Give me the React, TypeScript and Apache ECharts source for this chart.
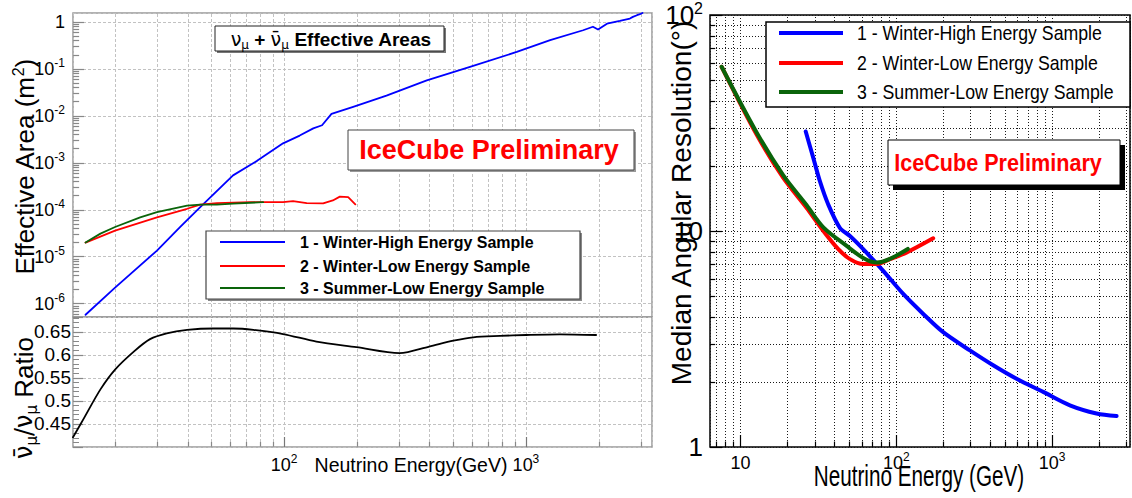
import React, { useEffect, useRef } from 'react';
import * as echarts from 'echarts';

// ---------------- Data ----------------
const sampleNames = [
  '1 - Winter-High Energy Sample',
  '2 - Winter-Low Energy Sample',
  '3 - Summer-Low Energy Sample',
];

// Effective area (m^2) vs neutrino energy (GeV)
const effEnergyWinterHigh = [15.1, 20, 29.8, 37.2, 45, 61.5, 77.3, 99, 116, 132, 143.5, 157, 193, 265, 389, 587, 916, 1259, 1723, 1892, 1986, 2163, 2445, 2690, 2767, 2878, 2958, 3033];
const effAreaWinterHigh = [5.8e-7, 2.2e-6, 1.35e-5, 4.3e-5, 1.14e-4, 5.4e-4, 1.1e-3, 2.6e-3, 3.8e-3, 5.4e-3, 6.3e-3, 1.1e-2, 1.55e-2, 2.7e-2, 5.7e-2, 0.11, 0.23, 0.41, 0.665, 0.79, 0.69, 0.92, 1.05, 1.18, 1.28, 1.39, 1.46, 1.55];

const effEnergyWinterLow = [15.1, 20, 29.8, 39.7, 45, 52.7, 72.4, 99, 108.9, 124, 145, 159, 170, 184, 197];
const effAreaWinterLow = [2.0e-5, 3.6e-5, 6.9e-5, 1.05e-4, 1.29e-4, 1.38e-4, 1.45e-4, 1.45e-4, 1.52e-4, 1.38e-4, 1.37e-4, 1.58e-4, 1.9e-4, 1.85e-4, 1.3e-4];

const effEnergySummerLow = [15.1, 17.4, 20, 25.4, 29.8, 39.7, 45, 52.7, 61.5, 81.9];
const effAreaSummerLow = [2.0e-5, 3.1e-5, 4.3e-5, 6.9e-5, 8.9e-5, 1.23e-4, 1.29e-4, 1.29e-4, 1.35e-4, 1.45e-4];

// anti-nu / nu ratio
const ratioEnergy = [13.4, 14.8, 17.4, 20, 23.9, 27.9, 32.7, 39.7, 51.1, 61.7, 74.7, 99, 136, 199, 300, 398, 501, 605, 781, 1000, 1380, 1950];
const ratioValue = [0.421, 0.4605, 0.525, 0.568, 0.607, 0.634, 0.6466, 0.654, 0.657, 0.657, 0.654, 0.645, 0.6286, 0.6165, 0.6036, 0.618, 0.6307, 0.638, 0.641, 0.643, 0.6445, 0.643];

// Median angular resolution (deg) vs neutrino energy (GeV)
const resEnergyWinterHigh = [26.2, 29.3, 32.3, 36.5, 43.4, 50.4, 61.3, 82.4, 110.8, 149, 200, 297, 419, 592, 878, 1303, 1933, 2600];
const resWinterHigh = [28.9, 21.8, 17.0, 13.3, 10.35, 9.48, 8.24, 6.54, 5.11, 4.13, 3.40, 2.80, 2.39, 2.07, 1.80, 1.56, 1.43, 1.39];

const resEnergyWinterLow = [7.55, 12.7, 18.8, 26.5, 34.0, 42.4, 50.4, 61.3, 74.7, 91, 116, 172.5];
const resWinterLow = [57.6, 27.9, 17.6, 12.8, 10.0, 8.24, 7.41, 7.03, 7.03, 7.41, 7.94, 9.25];

const resEnergySummerLow = [7.55, 12.7, 18.8, 26.5, 34.0, 48.0, 61.3, 74.7, 91, 118.6];
const resSummerLow = [57.6, 28.5, 18.1, 13.2, 10.4, 8.53, 7.5, 7.14, 7.43, 8.26];

// Axis ranges
const LX_MIN = 13.4, LX_MAX = 3320;
const LY_MIN = 5.2e-7, LY_MAX = 1.55;
const RATIO_MIN = 0.4, RATIO_MAX = 0.682, RATIO_STEP = 0.05;
const RX_MIN = 6.36, RX_MAX = 3170;
const RY_MIN = 1, RY_MAX = 100;

// ---------------- Helpers ----------------
const FONT = "'Liberation Sans', Arial, Helvetica, sans-serif";
const NARROW = "'Liberation Sans Narrow', 'Liberation Sans', Arial, sans-serif";
const GREEK = "'DejaVu Sans', 'Liberation Sans', sans-serif";

const BLUE = '#0000ff';
const RED = '#ff0000';
const GREEN = '#0a640a';

const pairs = (xs: number[], ys: number[]) => xs.map((x, i) => [x, ys[i]]);

const logMinors = (lo: number, hi: number) => {
  const out: number[] = [];
  for (let d = Math.floor(Math.log10(lo)); d <= Math.ceil(Math.log10(hi)); d++) {
    for (let k = 2; k <= 9; k++) {
      const v = k * Math.pow(10, d);
      if (v > lo && v < hi) out.push(v);
    }
  }
  return out;
};

const isPow10 = (v: number) => {
  const e = Math.log10(v);
  return Math.abs(e - Math.round(e)) < 1e-6;
};

const powLabel = (plainTen: boolean) => (v: number) => {
  if (!isPow10(v)) return '';
  const r = Math.round(Math.log10(v));
  if (r === 0) return '1';
  if (r === 1 && plainTen) return '10';
  return `10{sup|${r}}`;
};

const ratioLabel = (v: number) => {
  const k = Math.round(v / RATIO_STEP);
  if (Math.abs(v - k * RATIO_STEP) > 1e-6 || k <= 8) return '';
  return String(Math.round(k * 5) / 100);
};

const supRich = (size: number, family: string) => ({
  sup: { fontSize: size, lineHeight: size, verticalAlign: 'top', fontFamily: family, color: '#000' },
});

const markLines = (data: any[], lineStyle: any) => ({
  silent: true,
  symbol: ['none', 'none'],
  z: 1,
  animation: false,
  label: { show: false },
  emphasis: { disabled: true },
  lineStyle,
  data,
});

const lineSeries = (name: string, idx: number, xs: number[], ys: number[], color: string, width: number, extra: any = {}) => ({
  type: 'line',
  name,
  xAxisIndex: idx,
  yAxisIndex: idx,
  data: pairs(xs, ys),
  showSymbol: false,
  symbol: 'none',
  silent: true,
  z: 2,
  lineStyle: { color, width, cap: 'round', join: 'round' },
  itemStyle: { color },
  emphasis: { disabled: true },
  ...extra,
});

function buildOption() {
  const gridLineL = { color: '#c2c2c2', type: [3, 2], width: 1 };
  const gridLineR = { color: '#1a1a1a', type: [1, 2], width: 1 };
  const tickL = { color: '#888', width: 1.2, type: 'solid' };
  const tickR = { color: '#000', width: 1.2, type: 'solid' };

  const minorLX = logMinors(LX_MIN, LX_MAX);
  const minorLY = logMinors(LY_MIN, LY_MAX);
  const minorRX = logMinors(RX_MIN, RX_MAX);
  const minorRY = logMinors(RY_MIN, RY_MAX);

  const legendTextL = (t: string, y: number) => ({
    type: 'text', x: 300, y, z: 102, silent: true,
    style: { text: t, fontSize: 16, fontWeight: 'bold', fontFamily: FONT, fill: '#000', align: 'left', verticalAlign: 'middle' },
  });
  const legendLine = (x1: number, x2: number, y: number, color: string, w: number) => ({
    type: 'line', z: 102, silent: true,
    shape: { x1, y1: y, x2, y2: y },
    style: { stroke: color, lineWidth: w },
  });
  const legendTextR = (t: string, y: number) => ({
    type: 'text', x: 857, y, z: 102, scaleX: 0.885, silent: true,
    style: { text: t, fontSize: 20, fontFamily: FONT, fill: '#000', align: 'left', verticalAlign: 'middle' },
  });

  return {
    animation: false,
    backgroundColor: '#ffffff',
    grid: [
      { left: 73, top: 13, width: 579, height: 304, show: true, borderColor: '#999', borderWidth: 1.5 },
      { left: 73, top: 317, width: 579, height: 130, show: true, borderColor: '#999', borderWidth: 1.5 },
      { left: 710, top: 13, width: 420, height: 434, show: true, borderColor: '#000', borderWidth: 1.5 },
    ],
    xAxis: [
      {
        type: 'log', logBase: 10, gridIndex: 0, min: LX_MIN, max: LX_MAX,
        axisLine: { show: false }, axisTick: { show: false }, axisLabel: { show: false },
        splitLine: { show: true, lineStyle: gridLineL },
      },
      {
        type: 'log', logBase: 10, gridIndex: 1, min: LX_MIN, max: LX_MAX,
        axisLine: { show: false },
        axisTick: { show: true, inside: true, length: 10, lineStyle: { color: '#777', width: 1.2 } },
        axisLabel: {
          formatter: powLabel(false), fontSize: 18, lineHeight: 24, color: '#000', fontFamily: FONT,
          margin: 6, rich: supRich(12, FONT), showMinLabel: false, showMaxLabel: false,
        },
        splitLine: { show: true, lineStyle: gridLineL },
      },
      {
        type: 'log', logBase: 10, gridIndex: 2, min: RX_MIN, max: RX_MAX,
        axisLine: { show: false },
        axisTick: { show: true, inside: true, length: 12, lineStyle: { color: '#000', width: 1.2 } },
        axisLabel: {
          formatter: powLabel(true), fontSize: 18, lineHeight: 24, color: '#000', fontFamily: NARROW,
          margin: 4, rich: supRich(12, NARROW), showMinLabel: false, showMaxLabel: false,
        },
        splitLine: { show: true, lineStyle: gridLineR },
      },
    ],
    yAxis: [
      {
        type: 'log', logBase: 10, gridIndex: 0, min: LY_MIN, max: LY_MAX,
        axisLine: { show: false },
        axisTick: { show: true, inside: true, length: 11, lineStyle: { color: '#888', width: 1.2 } },
        axisLabel: {
          formatter: powLabel(false), fontSize: 18, lineHeight: 24, color: '#000', fontFamily: FONT,
          margin: 8, rich: supRich(12, FONT), showMinLabel: false, showMaxLabel: false,
        },
        splitLine: { show: true, lineStyle: gridLineL },
      },
      {
        type: 'value', gridIndex: 1, min: RATIO_MIN, max: RATIO_MAX, interval: RATIO_STEP,
        axisLine: { show: false },
        axisTick: { show: true, inside: true, length: 10, lineStyle: { color: '#888', width: 1.2 } },
        minorTick: { show: true, splitNumber: 5, length: 6, lineStyle: { color: '#888', width: 1 } },
        axisLabel: { formatter: ratioLabel, fontSize: 19, color: '#000', fontFamily: FONT, margin: 2 },
        splitLine: { show: true, lineStyle: gridLineL },
      },
      {
        type: 'log', logBase: 10, gridIndex: 2, min: RY_MIN, max: RY_MAX,
        axisLine: { show: false },
        axisTick: { show: true, inside: true, length: 12, lineStyle: { color: '#000', width: 1.2 } },
        axisLabel: {
          formatter: powLabel(true), fontSize: 26, lineHeight: 30, color: '#000', fontFamily: NARROW,
          margin: 7, rich: supRich(16, NARROW),
        },
        splitLine: { show: true, lineStyle: gridLineR },
      },
    ],
    series: [
      // ---- Effective areas (top-left) ----
      lineSeries(sampleNames[0], 0, effEnergyWinterHigh, effAreaWinterHigh, BLUE, 1.8, {
        markLine: markLines(minorLX.map((v) => ({ xAxis: v })), gridLineL),
      }),
      lineSeries(sampleNames[1], 0, effEnergyWinterLow, effAreaWinterLow, RED, 1.8, {
        markLine: markLines(
          minorLY.map((v) => [{ coord: [LX_MIN * 1.001, v] }, { coord: [LX_MIN * 1.06, v] }]),
          tickL,
        ),
      }),
      lineSeries(sampleNames[2], 0, effEnergySummerLow, effAreaSummerLow, GREEN, 1.8),
      // ---- Ratio (bottom-left) ----
      lineSeries('ν̄μ/νμ Ratio', 1, ratioEnergy, ratioValue, '#000', 1.8, {
        smooth: 0.3,
        markLine: markLines(minorLX.map((v) => ({ xAxis: v })), gridLineL),
      }),
      {
        type: 'line', name: 'ratio-ticks', xAxisIndex: 1, yAxisIndex: 1, data: [], silent: true,
        showSymbol: false,
        markLine: markLines(
          minorLX.map((v) => [{ coord: [v, RATIO_MIN + 0.0005] }, { coord: [v, RATIO_MIN + 0.011] }]),
          tickL,
        ),
      },
      // ---- Angular resolution (right) ----
      lineSeries(sampleNames[0], 2, resEnergyWinterHigh, resWinterHigh, BLUE, 4, {
        smooth: 0.3,
        markLine: markLines(
          [...minorRX.map((v) => ({ xAxis: v })), ...minorRY.map((v) => ({ yAxis: v }))],
          gridLineR,
        ),
      }),
      lineSeries(sampleNames[1], 2, resEnergyWinterLow, resWinterLow, RED, 4, {
        smooth: 0.3,
        markLine: markLines(
          [
            ...minorRY.map((v) => [{ coord: [RX_MIN * 1.001, v] }, { coord: [RX_MIN * 1.08, v] }]),
            ...minorRX.map((v) => [{ coord: [v, RY_MIN * 1.001] }, { coord: [v, RY_MIN * 1.06] }]),
          ],
          tickR,
        ),
      }),
      lineSeries(sampleNames[2], 2, resEnergySummerLow, resSummerLow, GREEN, 4, { smooth: 0.3 }),
    ],
    graphic: [
      // ---- left: title box ----
      { type: 'rect', z: 100, silent: true, shape: { x: 217, y: 28, width: 229, height: 25 }, style: { fill: '#777' } },
      { type: 'rect', z: 101, silent: true, shape: { x: 215, y: 26, width: 229, height: 25 }, style: { fill: '#fff', stroke: '#222', lineWidth: 1 } },
      {
        type: 'text', x: 331, y: 39, z: 102, silent: true,
        style: {
          text: '{g|ν}{s|μ}{b| + }{g|ν\u0304}{s|μ}{b| Effective Areas}',
          align: 'center', verticalAlign: 'middle',
          rich: {
            g: { fontSize: 19, fontFamily: GREEK, fill: '#000', lineHeight: 24 },
            s: { fontSize: 12, fontFamily: GREEK, fill: '#000', lineHeight: 12, verticalAlign: 'bottom' },
            b: { fontSize: 19, fontWeight: 'bold', fontFamily: FONT, fill: '#000', lineHeight: 24 },
          },
        },
      },
      // ---- left: IceCube Preliminary ----
      { type: 'rect', z: 100, silent: true, shape: { x: 350, y: 132, width: 286, height: 40 }, style: { fill: '#999' } },
      { type: 'rect', z: 101, silent: true, shape: { x: 348, y: 130, width: 286, height: 40 }, style: { fill: '#fff', stroke: '#444', lineWidth: 1 } },
      {
        type: 'text', x: 489, y: 150, z: 102, silent: true,
        style: { text: 'IceCube Preliminary', fontSize: 27, fontWeight: 'bold', fontFamily: FONT, fill: RED, align: 'center', verticalAlign: 'middle' },
      },
      // ---- left: legend ----
      { type: 'rect', z: 100, silent: true, shape: { x: 208, y: 233, width: 374, height: 68 }, style: { fill: '#888' } },
      { type: 'rect', z: 101, silent: true, shape: { x: 206, y: 231, width: 374, height: 68 }, style: { fill: '#fff', stroke: '#444', lineWidth: 1.2 } },
      legendLine(220, 285, 242, BLUE, 1.8),
      legendLine(220, 285, 266, RED, 1.8),
      legendLine(220, 285, 288, GREEN, 1.8),
      legendTextL(sampleNames[0], 242),
      legendTextL(sampleNames[1], 266),
      legendTextL(sampleNames[2], 288),
      // ---- left: axis titles ----
      {
        type: 'text', x: 25, y: 167, rotation: Math.PI / 2, z: 102, silent: true,
        style: {
          text: 'Effective Area (m{sup|2})', fontSize: 26, lineHeight: 30, fontFamily: FONT, fill: '#000',
          align: 'center', verticalAlign: 'middle',
          rich: { sup: { fontSize: 16, lineHeight: 16, verticalAlign: 'top', fontFamily: FONT, fill: '#000' } },
        },
      },
      {
        type: 'text', x: 24, y: 398, rotation: Math.PI / 2, z: 102, silent: true,
        style: {
          text: '{g|ν\u0304}{s|μ}{g|/ν}{s|μ}{n| Ratio}', align: 'center', verticalAlign: 'middle',
          rich: {
            g: { fontSize: 24, fontFamily: GREEK, fill: '#000', lineHeight: 30 },
            s: { fontSize: 15, fontFamily: GREEK, fill: '#000', lineHeight: 15, verticalAlign: 'bottom' },
            n: { fontSize: 26, fontFamily: FONT, fill: '#000', lineHeight: 30 },
          },
        },
      },
      {
        type: 'text', x: 411, y: 465, z: 102, silent: true,
        style: { text: 'Neutrino Energy(GeV)', fontSize: 19.5, fontFamily: FONT, fill: '#000', align: 'center', verticalAlign: 'middle' },
      },
      // ---- right: legend ----
      { type: 'rect', z: 101, silent: true, shape: { x: 766, y: 22, width: 364, height: 85 }, style: { fill: '#fff', stroke: '#000', lineWidth: 1.5 } },
      legendLine(779, 843, 33, BLUE, 4),
      legendLine(779, 843, 63, RED, 4),
      legendLine(779, 843, 92, GREEN, 4),
      legendTextR(sampleNames[0], 33),
      legendTextR(sampleNames[1], 63),
      legendTextR(sampleNames[2], 92),
      // ---- right: IceCube Preliminary ----
      { type: 'rect', z: 100, silent: true, shape: { x: 893, y: 145, width: 232, height: 45 }, style: { fill: '#000' } },
      { type: 'rect', z: 101, silent: true, shape: { x: 888, y: 140, width: 232, height: 45 }, style: { fill: '#fff', stroke: '#000', lineWidth: 1 } },
      {
        type: 'text', x: 998, y: 163, scaleX: 0.9, z: 102, silent: true,
        style: { text: 'IceCube Preliminary', fontSize: 24, fontWeight: 'bold', fontFamily: FONT, fill: RED, align: 'center', verticalAlign: 'middle' },
      },
      // ---- right: axis titles ----
      {
        type: 'text', x: 681, y: 203, rotation: Math.PI / 2, z: 102, silent: true,
        style: { text: 'Median Angular Resolution(°)', fontSize: 28, fontFamily: FONT, fill: '#000', align: 'center', verticalAlign: 'middle' },
      },
      {
        type: 'text', x: 919, y: 476, scaleX: 0.69, z: 102, silent: true,
        style: { text: 'Neutrino Energy (GeV)', fontSize: 30, fontFamily: FONT, fill: '#000', align: 'center', verticalAlign: 'middle' },
      },
    ],
  };
}

export default function App() {
  const ref = useRef<HTMLDivElement>(null);
  useEffect(() => {
    if (!ref.current) return;
    const chart = echarts.init(ref.current, undefined, { renderer: 'svg' });
    chart.setOption(buildOption() as any);
    return () => chart.dispose();
  }, []);
  return (
    <div
      ref={ref}
      style={{ position: 'fixed', left: 0, top: 0, width: 1132, height: 498, background: '#fff' }}
    />
  );
}
